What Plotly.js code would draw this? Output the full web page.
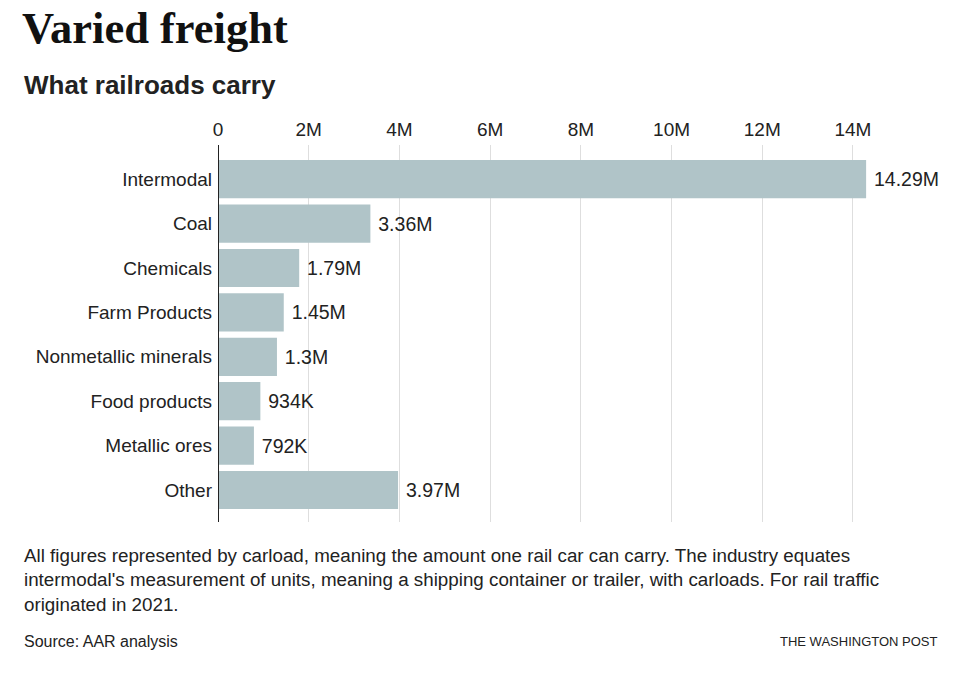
<!DOCTYPE html>
<html><head><meta charset="utf-8">
<script src="https://cdn.plot.ly/plotly-3.0.1.min.js"></script>
<style>body{margin:0;background:#fff}#chart{width:960px;height:686px}</style>
</head><body><div id="chart"></div>
<script>
const categories = ["Intermodal","Coal","Chemicals","Farm Products","Nonmetallic minerals","Food products","Metallic ores","Other"];
const carloads = [14290000,3360000,1790000,1450000,1300000,934000,792000,3970000];
const valueLabels = ["14.29M","3.36M","1.79M","1.45M","1.3M","934K","792K","3.97M"];
const tickValues = [0,2e6,4e6,6e6,8e6,10e6,12e6,14e6];
const tickLabels = ["0","2M","4M","6M","8M","10M","12M","14M"];

const W=960,H=686, L=218, R=39, T=145, B=164;
const pw=W-L-R, ph=H-T-B;
const px=x=>(x-L)/pw, py=y=>(H-B-y)/ph;
const sans='"Liberation Sans", Arial, sans-serif';

const trace={type:'bar',orientation:'h',y:categories,x:carloads,
  marker:{color:'#b0c4c8'},text:valueLabels,texttemplate:'\u2005%{text}',textposition:'outside',
  textfont:{family:sans,size:19.5,color:'#222'},cliponaxis:false,hoverinfo:'skip'};

const ann=(x,y,text,size,opts)=>Object.assign({xref:'paper',yref:'paper',x:px(x),y:py(y),text,showarrow:false,
  xanchor:'left',yanchor:'top',align:'left',font:{family:sans,size,color:'#222'}},opts||{});

const layout={width:W,height:H,margin:{l:L,r:R,t:T,b:B},paper_bgcolor:'#fff',plot_bgcolor:'#fff',
  bargap:0.14,showlegend:false,
  xaxis:{side:'top',range:[0,15.5e6],tickvals:tickValues,ticktext:tickLabels,showgrid:true,gridcolor:'#dedede',gridwidth:1,
    zeroline:false,showline:false,ticks:'',ticklabelstandoff:4,tickfont:{family:sans,size:19,color:'#222'},fixedrange:true},
  yaxis:{type:'category',categoryorder:'array',categoryarray:categories,range:[7.72,-0.77],
    showgrid:false,zeroline:false,showline:false,ticks:'',ticklabelstandoff:5,tickfont:{family:sans,size:19,color:'#222'},fixedrange:true},
  shapes:[{type:'line',xref:'x',yref:'paper',x0:0,x1:0,y0:0,y1:1,line:{color:'#222',width:2}}],
  annotations:[
    ann(20,1,'<b>Varied freight</b>',44.5,{font:{family:'"Liberation Serif", "DejaVu Serif", serif',size:44.5,color:'#111'}}),
    ann(22,68,'<b>What railroads carry</b>',26,{font:{family:sans,size:26,color:'#222'}}),
    ann(22,543,"All figures represented by carload, meaning the amount one rail car can carry. The industry equates<br>intermodal's measurement of units, meaning a shipping container or trailer, with carloads. For rail traffic<br>originated in 2021.",18.8,{font:{family:sans,size:18.8,color:'#222'}}),
    ann(22,631,'Source: AAR analysis',16,{font:{family:sans,size:16,color:'#222'}}),
    ann(940,632,'THE WASHINGTON POST',13,{xanchor:'right',align:'right',font:{family:sans,size:13,color:'#222'}})
  ]};
Plotly.newPlot('chart',[trace],layout,{displayModeBar:false,staticPlot:true});
</script></body></html>
